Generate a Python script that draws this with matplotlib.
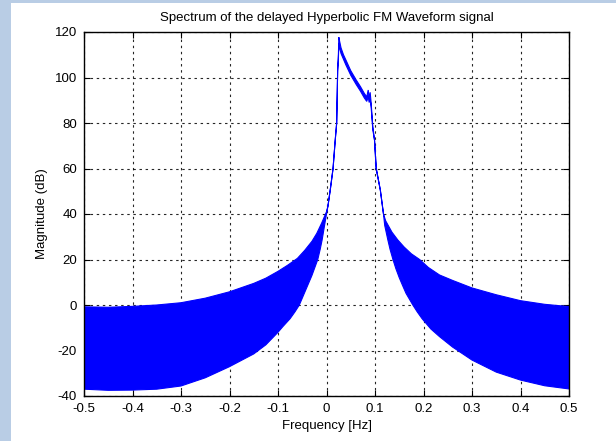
import numpy as np
import matplotlib
matplotlib.use("Agg")
import matplotlib.pyplot as plt
from matplotlib.patches import Rectangle

plt.rcParams['font.family'] = ['Liberation Sans', 'DejaVu Sans']
plt.rcParams['axes.unicode_minus'] = False

# upper envelope of the spectrum (Hz, dB)
f_upper = [-0.5, -0.45, -0.4, -0.35, -0.3, -0.25, -0.2, -0.15, -0.125, -0.1,
           -0.08, -0.06, -0.045, -0.03, -0.02, -0.01, -0.004, 0.0, 0.003,
           0.008, 0.0135, 0.018, 0.021, 0.023, 0.0245, 0.0255, 0.027, 0.03,
           0.035, 0.04, 0.05, 0.061, 0.07, 0.078, 0.083, 0.086, 0.088, 0.09,
           0.092, 0.0955, 0.099, 0.1025, 0.111, 0.1175, 0.122, 0.135, 0.147,
           0.16, 0.175, 0.192, 0.21, 0.233, 0.26, 0.3, 0.35, 0.4, 0.45, 0.5]
db_upper = [-0.8, -1.0, -0.6, 0.0, 1.0, 3.0, 5.8, 9.5, 11.8, 14.8,
            17.5, 20.5, 24.0, 28.0, 31.5, 36.0, 39.0, 41.0, 43.5,
            51.0, 60.0, 72.5, 80.0, 103.0, 110.0, 117.7, 116.0, 113.0,
            110.0, 107.7, 103.0, 99.0, 96.0, 93.0, 91.5, 94.5, 91.0, 93.5,
            89.0, 78.4, 72.5, 60.0, 50.5, 40.0, 37.0, 32.0, 28.6,
            25.5, 22.5, 20.0, 16.5, 13.2, 10.8, 7.5, 4.5, 1.9, 0.3, -0.7]

# lower envelope of the spectrum (Hz, dB)
f_lower = [-0.5, -0.45, -0.4, -0.35, -0.3, -0.25, -0.2, -0.15, -0.125, -0.1,
           -0.09, -0.075, -0.065, -0.056, -0.048, -0.04, -0.035, -0.03, -0.024,
           -0.018, -0.013, -0.009, -0.004, 0.0, 0.003, 0.008, 0.0135, 0.018,
           0.021, 0.023, 0.0245, 0.0255, 0.027, 0.03, 0.035, 0.04, 0.05,
           0.061, 0.07, 0.078, 0.083, 0.086, 0.088, 0.09, 0.092, 0.0955,
           0.099, 0.1025, 0.111, 0.1175, 0.12, 0.1265, 0.131, 0.137, 0.143,
           0.15, 0.157, 0.164, 0.178, 0.187, 0.197, 0.215, 0.233, 0.26, 0.3,
           0.35, 0.4, 0.45, 0.5]
db_lower = [-37.0, -37.5, -37.4, -37.0, -35.6, -32.0, -27.1, -21.5, -17.5, -12.0,
            -9.5, -6.0, -3.0, 0.0, 4.0, 8.0, 10.5, 13.0, 16.5,
            20.0, 24.5, 28.6, 35.0, 40.0, 43.5, 51.0, 60.0, 72.5,
            80.0, 103.0, 108.0, 115.0, 113.0, 110.5, 108.0, 105.5, 101.0,
            97.0, 94.0, 91.0, 89.5, 91.5, 89.0, 90.5, 87.0, 77.0,
            72.5, 60.0, 50.5, 40.0, 35.0, 28.6, 24.5, 20.0, 16.0,
            12.0, 8.5, 5.1, 0.0, -3.0, -6.0, -10.5, -13.9, -18.5, -24.2,
            -29.5, -33.0, -35.5, -36.9]

xticks = [-0.5, -0.4, -0.3, -0.2, -0.1, 0, 0.1, 0.2, 0.3, 0.4, 0.5]
xticklabels = ["-0.5", "-0.4", "-0.3", "-0.2", "-0.1", "0", "0.1", "0.2", "0.3", "0.4", "0.5"]
yticks = [-40, -20, 0, 20, 40, 60, 80, 100, 120]

fig = plt.figure(figsize=(6.16, 4.41), dpi=100, facecolor="#b9cde5")
# white panel, leaves a light blue strip on the left and top
fig.patches.append(Rectangle((11 / 616, 0), 1, 1 - 3 / 441, transform=fig.transFigure,
                             facecolor="white", edgecolor="none", zorder=-10))

ax = fig.add_axes([84 / 616, 1 - 396 / 441, (569 - 84) / 616, (396 - 32) / 441])

xs = np.concatenate([f_upper, f_lower[::-1]])
ys = np.concatenate([db_upper, db_lower[::-1]])
ax.fill(xs, ys, facecolor="#0000ff", edgecolor="#0000ff", lw=0.8, zorder=2)

ax.set_xlim(-0.5, 0.5)
ax.set_ylim(-40, 120)
ax.set_xticks(xticks)
ax.set_xticklabels(xticklabels)
ax.set_yticks(yticks)
ax.grid(True, color="black", linestyle=(0, (2.2, 3.3)), lw=0.8, alpha=0.85)
ax.set_axisbelow(True)
ax.tick_params(direction="in", length=4, width=0.8, top=True, right=True,
               labelsize=9.5)
ax.tick_params(axis="x", pad=5)
ax.tick_params(axis="y", pad=5)
for s in ax.spines.values():
    s.set_linewidth(1.0)
    s.set_color("black")

ax.set_title("Spectrum of the delayed Hyperbolic FM Waveform signal", fontsize=9.5, pad=8)
ax.set_xlabel("Frequency [Hz]", fontsize=9.5, labelpad=4)
ax.set_ylabel("Magnitude (dB)", fontsize=9.5, labelpad=5)

fig.savefig("out.png", dpi=100, facecolor=fig.get_facecolor())
